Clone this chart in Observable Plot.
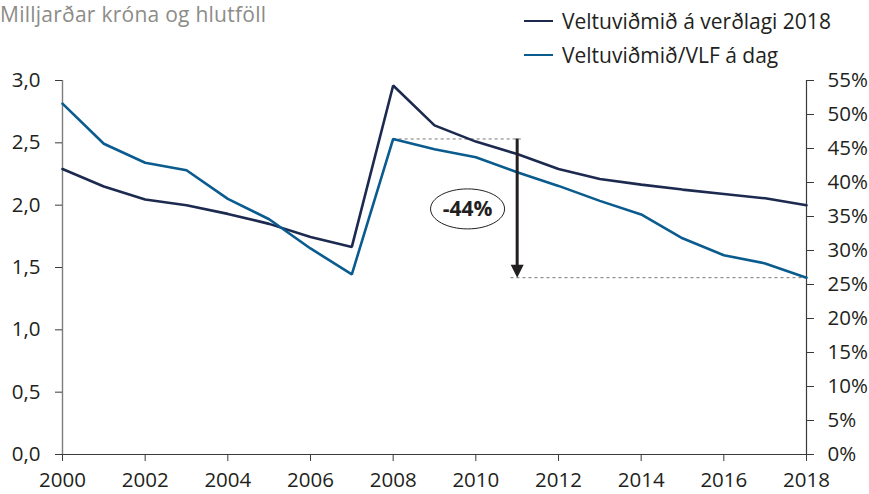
<!DOCTYPE html>
<html><head><meta charset="utf-8">
<script src="https://cdn.jsdelivr.net/npm/d3@7"></script>
<script src="https://cdn.jsdelivr.net/npm/@observablehq/plot@0.6"></script>
<style>
body{margin:0;background:#fff;font-family:"Open Sans",sans-serif;}
#wrap{position:relative;width:869px;height:494px;}
#title{position:absolute;left:0;top:0px;font-size:21px;line-height:normal;color:#8c8c87;letter-spacing:0.25px;}
#legend{position:absolute;left:524px;top:4px;font-size:21px;color:#231f20;}
.item{display:flex;align-items:center;height:34px;}
.sw{width:29px;height:2.5px;margin-right:9px;}
#chart g[aria-label$="tick label"] text{font-size:20.5px;}
</style></head><body>
<div id="wrap"><div id="chart"></div><div id="title"></div><div id="legend"></div></div>
<script>
const years = [2000,2001,2002,2003,2004,2005,2006,2007,2008,2009,2010,2011,2012,2013,2014,2015,2016,2017,2018];
const realValue = [2.29,2.15,2.045,2.0,1.93,1.85,1.745,1.665,2.96,2.64,2.51,2.41,2.29,2.21,2.165,2.125,2.09,2.055,2.0];
const ratioPct = [51.6,45.7,42.9,41.8,37.6,34.6,30.3,26.5,46.4,44.9,43.7,41.5,39.5,37.3,35.3,31.8,29.3,28.1,26.0];
const seriesNames = ["Veltuviðmið á verðlagi 2018","Veltuviðmið/VLF á dag"];
const seriesColors = ["#1d2a4f","#0a5b8e"];
const leftTicks = [0,0.5,1,1.5,2,2.5,3];
const rightTicks = [0,5,10,15,20,25,30,35,40,45,50,55];
const xTicks = [2000,2002,2004,2006,2008,2010,2012,2014,2016,2018];
const titleText = "Milljarðar króna og hlutföll";
const annoYear = 2011;
const annoLabelYear = 2009.8;
const annoLabelValue = 1.97;
const annoLabel = "-44%";

const leftMax = 3, rightMax = 55;
const toLeft = p => p * leftMax / rightMax;
const fmtComma = d => d.toFixed(1).replace(".", ",");

const rows = [];
years.forEach((y,i) => {
  rows.push({year:y, value:realValue[i], series:seriesNames[0]});
  rows.push({year:y, value:toLeft(ratioPct[i]), series:seriesNames[1]});
});

const iStart = years.indexOf(2008), iEnd = years.indexOf(2018);
const topV = toLeft(ratioPct[iStart]), botV = toLeft(ratioPct[iEnd]);

const ellipse = {draw(ctx){const rx=37, ry=20, k=0.5523;
  ctx.moveTo(rx,0);
  ctx.bezierCurveTo(rx,ry*k,rx*k,ry,0,ry);
  ctx.bezierCurveTo(-rx*k,ry,-rx,ry*k,-rx,0);
  ctx.bezierCurveTo(-rx,-ry*k,-rx*k,-ry,0,-ry);
  ctx.bezierCurveTo(rx*k,-ry,rx,-ry*k,rx,0);
  ctx.closePath();}};
const headDown = {draw(ctx){ctx.moveTo(-6.5,-13);ctx.lineTo(6.5,-13);ctx.lineTo(0,0);ctx.closePath();}};

const gray = "#7d7d7d";
const dark = "#3a3a3a";
const chart = Plot.plot({
  width:869, height:494,
  marginLeft:62, marginRight:63, marginTop:80, marginBottom:40,
  style:{fontFamily:"'Open Sans', sans-serif", fontSize:"20px", color:"#231f20", background:"#fff", overflow:"visible"},
  x:{domain:[2000,2018], label:null},
  y:{domain:[0,leftMax], label:null},
  color:{domain:seriesNames, range:seriesColors},
  marks:[
    Plot.ruleX([2000], {stroke:gray, strokeWidth:1.4}),
    Plot.ruleX([2018], {stroke:dark, strokeWidth:1.2}),
    Plot.ruleY([0], {stroke:dark, strokeWidth:1.2, x1:2000, x2:2018, insetLeft:-7}),
    Plot.axisX({ticks:xTicks, tickFormat:d=>String(d), tickSize:7, tickPadding:11, stroke:dark, fill:"#231f20", fontSize:20, label:null}),
    Plot.axisY({anchor:"left", ticks:leftTicks, tickFormat:fmtComma, tickSize:7, tickPadding:15, stroke:dark, fill:"#231f20", fontSize:20, label:null}),
    Plot.axisY({anchor:"right", ticks:rightTicks.map(toLeft), tickFormat:d=>Math.round(d*rightMax/leftMax)+"%", tickSize:7, tickPadding:14, stroke:dark, fill:"#231f20", fontSize:20, label:null}),
    Plot.ruleY([topV], {x1:2008, x2:annoYear+0.1, stroke:"#777", strokeDasharray:"3,3", strokeWidth:1}),
    Plot.ruleY([botV], {x1:annoYear-0.15, x2:2018, stroke:"#777", strokeDasharray:"3,3", strokeWidth:1}),
    Plot.line(rows, {x:"year", y:"value", stroke:"series", strokeWidth:2.6, strokeLinejoin:"miter"}),
    Plot.ruleX([annoYear], {y1:topV, y2:botV, stroke:"#231f20", strokeWidth:3, insetBottom:10}),
    Plot.dot([annoYear], {x:d=>d, y:()=>botV, symbol:headDown, fill:"#231f20", stroke:null}),
    Plot.dot([annoLabel], {x:()=>annoLabelYear, y:()=>annoLabelValue, symbol:ellipse, fill:"#fff", stroke:"#231f20", strokeWidth:1}),
    Plot.text([annoLabel], {x:()=>annoLabelYear, y:()=>annoLabelValue, text:d=>d, fontWeight:"bold", fontSize:21, fill:"#231f20"})
  ]
});
document.getElementById("chart").appendChild(chart);
document.getElementById("title").textContent = titleText;
const leg = document.getElementById("legend");
seriesNames.forEach((n,i)=>{
  const it = document.createElement("div"); it.className="item";
  const sw = document.createElement("div"); sw.className="sw"; sw.style.background=seriesColors[i];
  const t = document.createElement("span"); t.textContent = n;
  it.appendChild(sw); it.appendChild(t); leg.appendChild(it);
});
</script>
</body></html>
